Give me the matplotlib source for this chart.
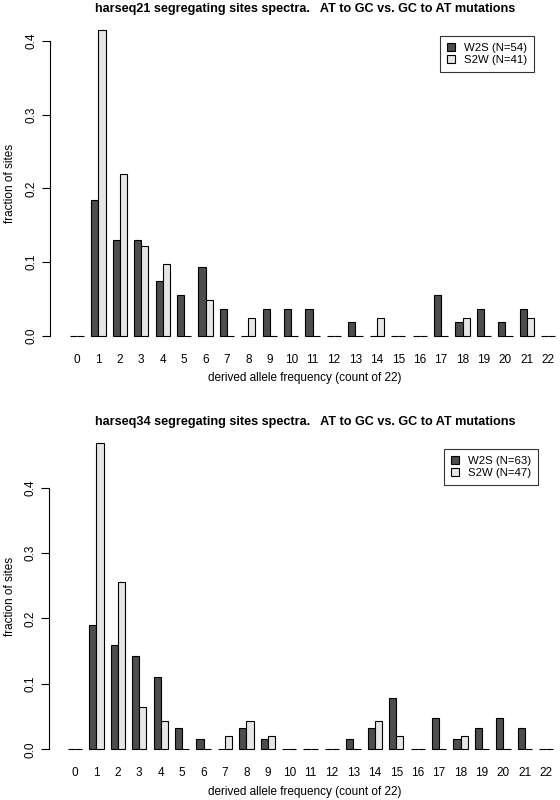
import matplotlib
matplotlib.use("Agg")
import matplotlib.pyplot as plt
import numpy as np

plt.rcParams['font.family'] = ['Liberation Sans', 'DejaVu Sans']

freq_labels = [str(i) for i in range(23)]

# harseq21 fractions of sites per derived allele count
h21_w2s = [0.0, 0.185, 0.130, 0.130, 0.074, 0.056, 0.093, 0.037, 0.0, 0.037, 0.037, 0.037,
           0.0, 0.019, 0.0, 0.0, 0.0, 0.056, 0.019, 0.037, 0.019, 0.037, 0.0]
h21_s2w = [0.0, 0.415, 0.220, 0.122, 0.098, 0.0, 0.049, 0.0, 0.024, 0.0, 0.0, 0.0,
           0.0, 0.0, 0.024, 0.0, 0.0, 0.0, 0.024, 0.0, 0.0, 0.024, 0.0]

# harseq34
h34_w2s = [0.0, 0.190, 0.159, 0.143, 0.111, 0.032, 0.016, 0.0, 0.032, 0.016, 0.0, 0.0,
           0.0, 0.016, 0.032, 0.079, 0.0, 0.048, 0.016, 0.032, 0.048, 0.032, 0.0]
h34_s2w = [0.0, 0.468, 0.255, 0.064, 0.043, 0.0, 0.0, 0.021, 0.043, 0.021, 0.0, 0.0,
           0.0, 0.0, 0.043, 0.021, 0.0, 0.0, 0.021, 0.0, 0.0, 0.0, 0.0]

panels = [
    ("harseq21", h21_w2s, h21_s2w, 54, 41),
    ("harseq34", h34_w2s, h34_s2w, 63, 47),
]

DARK = "#4D4D4D"
LIGHT = "#E6E6E6"

W, H = 560, 800
fig = plt.figure(figsize=(W / 100, H / 100), dpi=100)

# plot regions in pixels: left, top, bottom, title y, xlabel y, legend right, legend top
regions = [(50, 17.7, 348.2, 9, 378, 534, 36),
           (49.3, 430.9, 761.5, 421.5, 792, 538, 449)]
x_left = [-1.78, -1.6]
px_per_unit = 7.14

for (name, w2s, s2w, nw, ns), (l, t, b, ty, xly, lr, lt), xl in zip(panels, regions, x_left):
    width_px = W - l
    ax = fig.add_axes([l / W, 1 - b / H, width_px / W, (b - t) / H])
    ymax = max(max(w2s), max(s2w))
    pad = 0.04 * ymax
    ax.set_ylim(-pad, ymax + pad)
    ax.set_xlim(xl, xl + width_px / px_per_unit)

    x = np.arange(len(freq_labels)) * 3
    ax.bar(x + 1, w2s, width=1, align='edge', color=DARK, edgecolor='black',
           linewidth=0.8, label="W2S (N={})".format(nw))
    ax.bar(x + 2, s2w, width=1, align='edge', color=LIGHT, edgecolor='black',
           linewidth=0.8, label="S2W (N={})".format(ns))

    for s in ['top', 'right', 'bottom']:
        ax.spines[s].set_visible(False)
    ax.spines['left'].set_bounds(0, 0.4)
    ax.spines['left'].set_linewidth(0.8)
    ax.set_yticks([0.0, 0.1, 0.2, 0.3, 0.4])
    ax.set_yticklabels(["0.0", "0.1", "0.2", "0.3", "0.4"], rotation=90, va='center')
    ax.tick_params(axis='y', length=6, width=0.8, labelsize=8.5, pad=3)
    ax.set_xticks(x + 2)
    ax.set_xticklabels(freq_labels)
    ax.tick_params(axis='x', length=0, labelsize=8.5, pad=4)

    ax.set_ylabel("fraction of sites", fontsize=8.5)
    ax.yaxis.set_label_coords((16 - l) / width_px, 0.5)
    fig.text(305 / W, 1 - xly / H, "derived allele frequency (count of 22)",
             fontsize=8.5, ha='center', va='center')
    fig.text(305 / W, 1 - ty / H,
             name + " segregating sites spectra.   AT to GC vs. GC to AT mutations",
             fontsize=9.1, fontweight='bold', ha='center', va='center')

    leg = ax.legend(loc='upper right',
                    bbox_to_anchor=((lr - l) / width_px, (b - lt) / (b - t)),
                    fontsize=8.2, frameon=True, fancybox=False, edgecolor='black',
                    handlelength=0.7, handleheight=0.7, borderpad=0.6,
                    labelspacing=0.2, handletextpad=0.8, borderaxespad=0)
    leg.get_frame().set_linewidth(0.8)

fig.savefig("out.png", dpi=100)
